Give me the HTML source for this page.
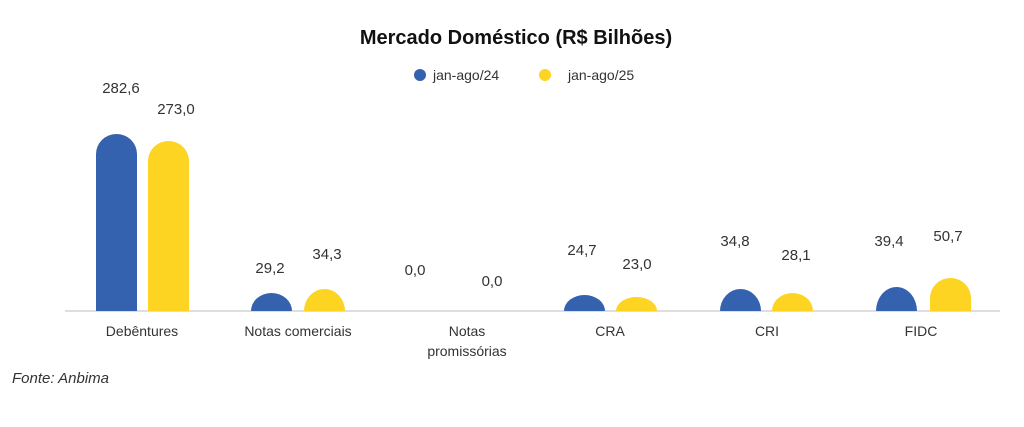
<!DOCTYPE html>
<html><head><meta charset="utf-8"><style>
body{margin:0;background:#fff}
svg text{font-family:"Liberation Sans",sans-serif;fill:#333}
</style></head><body>
<svg width="1024" height="422" viewBox="0 0 1024 422" xmlns="http://www.w3.org/2000/svg">
<text x="516" y="44" text-anchor="middle" font-size="20" font-weight="bold" style="fill:#111">Mercado Doméstico (R$ Bilhões)</text>
<circle cx="420" cy="75" r="6" fill="#3462AE"/>
<text x="433" y="80" font-size="14">jan-ago/24</text>
<circle cx="545" cy="75" r="6" fill="#FDD422"/>
<text x="568" y="80" font-size="14">jan-ago/25</text>
<line x1="65" y1="311" x2="1000" y2="311" stroke="#d4d4d4" stroke-width="1.5"/>
<g font-size="15" text-anchor="middle">
<text x="121" y="93">282,6</text><text x="176" y="114">273,0</text>
<text x="270" y="273">29,2</text><text x="327" y="259">34,3</text>
<text x="415" y="275">0,0</text><text x="492" y="286">0,0</text>
<text x="582" y="255">24,7</text><text x="637" y="269">23,0</text>
<text x="735" y="246">34,8</text><text x="796" y="260">28,1</text>
<text x="889" y="246">39,4</text><text x="948" y="241">50,7</text>
</g>
<g font-size="14" text-anchor="middle">
<text x="142" y="336">Debêntures</text>
<text x="298" y="336">Notas comerciais</text>
<text x="467" y="336">Notas</text><text x="467" y="356">promissórias</text>
<text x="610" y="336">CRA</text>
<text x="767" y="336">CRI</text>
<text x="921" y="336">FIDC</text>
</g>
<text x="12" y="383" font-size="15" font-style="italic">Fonte: Anbima</text>
<path d="M96,311 V154 A20.5,20 0 0 1 137,154 V311Z" fill="#3462AE"/>
<path d="M148,311 V161 A20.5,20 0 0 1 189,161 V311Z" fill="#FDD422"/>
<path d="M251,311 A20.5,18 0 0 1 292,311Z" fill="#3462AE"/>
<path d="M304,311 A20.5,22 0 0 1 345,311Z" fill="#FDD422"/>
<path d="M564,311 A20.5,16 0 0 1 605,311Z" fill="#3462AE"/>
<path d="M616,311 A20.5,14 0 0 1 657,311Z" fill="#FDD422"/>
<path d="M720,311 A20.5,22 0 0 1 761,311Z" fill="#3462AE"/>
<path d="M772,311 A20.5,18 0 0 1 813,311Z" fill="#FDD422"/>
<path d="M876,311 A20.5,24 0 0 1 917,311Z" fill="#3462AE"/>
<path d="M930,311 V298 A20.5,20 0 0 1 971,298 V311Z" fill="#FDD422"/>
</svg>
</body></html>
